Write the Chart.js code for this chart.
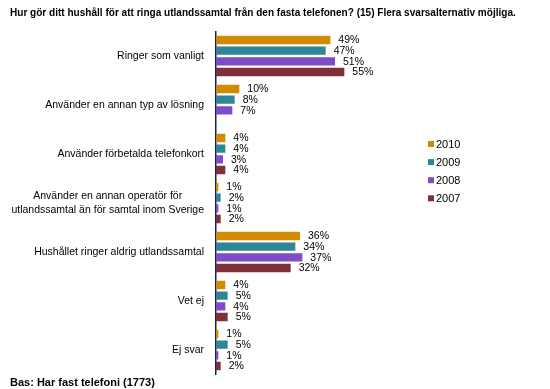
<!DOCTYPE html>
<html><head><meta charset="utf-8">
<script src="https://cdn.jsdelivr.net/npm/chart.js@4.4.0/dist/chart.umd.min.js"></script>
<style>html,body{margin:0;padding:0;background:#fff}#wrap{width:550px;height:389px;position:relative}</style>
</head><body><div id="wrap"><canvas id="c" width="550" height="389"></canvas></div>
<script>
const titleText = "Hur gör ditt hushåll för att ringa utlandssamtal från den fasta telefonen? (15) Flera svarsalternativ möjliga.";
const footnote = "Bas: Har fast telefoni (1773)";
const categories = [
  "Ringer som vanligt",
  "Använder en annan typ av lösning",
  "Använder förbetalda telefonkort",
  ["Använder en annan operatör för", "utlandssamtal än för samtal inom Sverige"],
  "Hushållet ringer aldrig utlandssamtal",
  "Vet ej",
  "Ej svar"
];
const seriesNames = ["2010", "2009", "2008", "2007"];
const values2010 = [49, 10, 4, 1, 36, 4, 1];
const values2009 = [47, 8, 4, 2, 34, 5, 5];
const values2008 = [51, 7, 3, 1, 37, 4, 1];
const values2007 = [55, null, 4, 2, 32, 5, 2];
const colors = ["#D18B00", "#2F869A", "#7E4BCB", "#7E3039"];

const FONT = 'Arial, "Liberation Sans", sans-serif';
const allValues = [values2010, values2009, values2008, values2007];

const drawPlugin = {
  id: 'customText',
  afterDraw(chart) {
    const ctx = chart.ctx;
    ctx.save();
    // value labels
    ctx.font = '10.5px ' + FONT;
    ctx.fillStyle = '#000';
    ctx.textBaseline = 'middle';
    ctx.textAlign = 'left';
    chart.data.datasets.forEach((ds, i) => {
      const meta = chart.getDatasetMeta(i);
      meta.data.forEach((el, j) => {
        const v = ds.data[j];
        if (v == null) return;
        ctx.fillText(v + '%', el.x + 8, el.y + 0.5);
      });
    });
    // category labels
    const ys = chart.scales.y;
    const rightX = 204;
    categories.forEach((lab, i) => {
      const py = ys.getPixelForValue(i);
      if (Array.isArray(lab)) {
        const w = Math.max(...lab.map(l => ctx.measureText(l).width));
        const cx = rightX - w / 2;
        const lh = 13.5;
        ctx.textAlign = 'center';
        lab.forEach((l, k) => {
          ctx.fillText(l, cx, py + (k - (lab.length - 1) / 2) * lh);
        });
      } else {
        ctx.textAlign = 'right';
        ctx.fillText(lab, rightX, py);
      }
    });
    // legend
    ctx.font = '11px ' + FONT;
    ctx.textAlign = 'left';
    chart.data.datasets.forEach((ds, i) => {
      const cy = 144 + i * 18.1;
      ctx.fillStyle = ds.backgroundColor;
      ctx.fillRect(428, cy - 3, 6, 6);
      ctx.fillStyle = '#000';
      ctx.fillText(ds.label, 436, cy + 0.5);
    });
    // title & footnote
    ctx.font = 'bold 11px ' + FONT;
    ctx.fillText(footnote, 10, 383);
    const tw = ctx.measureText(titleText).width;
    const fs = Math.min(11, 11 * 506 / tw);
    ctx.font = 'bold ' + fs.toFixed(2) + 'px ' + FONT;
    ctx.fillText(titleText, 10, 13.5);
    ctx.restore();
  }
};

new Chart(document.getElementById('c'), {
  type: 'bar',
  data: {
    labels: categories,
    datasets: seriesNames.map((n, i) => ({
      label: n,
      data: allValues[i],
      backgroundColor: colors[i],
      borderWidth: 0,
      barPercentage: 0.78,
      categoryPercentage: 0.87
    }))
  },
  options: {
    indexAxis: 'y',
    responsive: false,
    animation: false,
    devicePixelRatio: 1,
    layout: { padding: { left: 0, right: 147.3, top: 31.5, bottom: 14.5 } },
    plugins: { legend: { display: false }, title: { display: false }, tooltip: { enabled: false } },
    scales: {
      x: { min: 0, max: 80, display: false },
      y: {
        grid: { display: false, drawTicks: false },
        border: { display: true, color: '#0f1f5c', width: 1.5 },
        ticks: { display: false },
        afterFit(s) { s.width = 216; }
      }
    }
  },
  plugins: [drawPlugin]
});
</script>
</body></html>
